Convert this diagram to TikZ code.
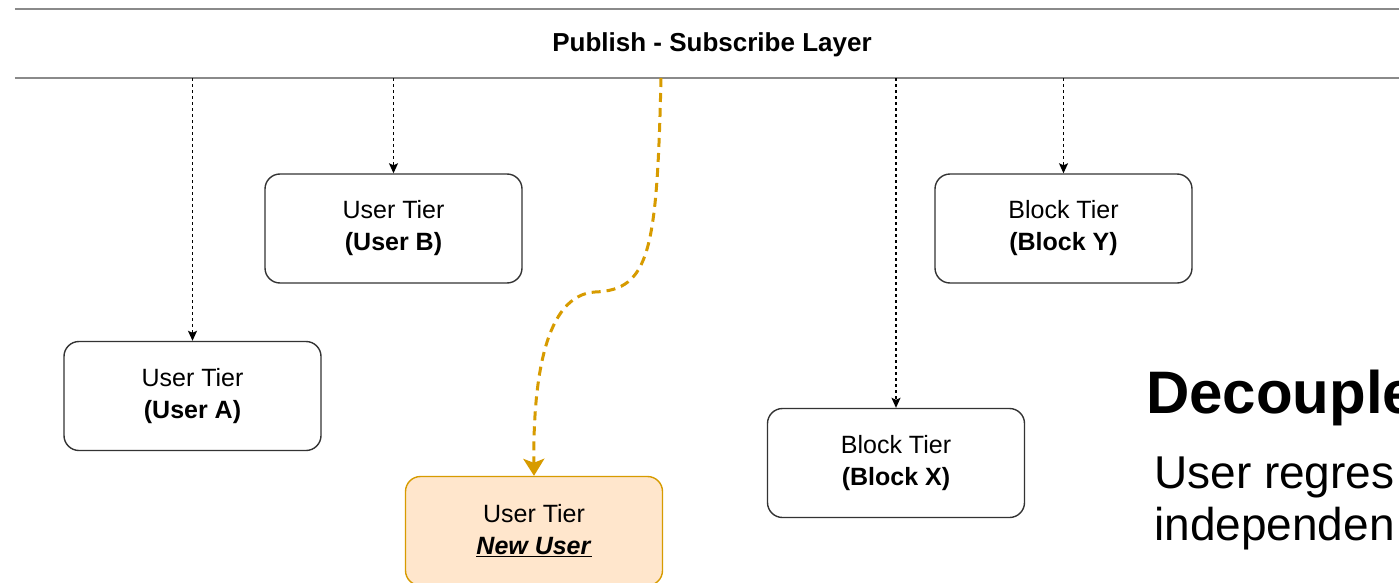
\documentclass[tikz,border=0pt]{standalone}
\usepackage{fontspec}
\setmainfont{Liberation Sans}
\usetikzlibrary{arrows.meta}

\definecolor{layerline}{HTML}{8A8A8A}
\definecolor{boxline}{HTML}{333333}
\definecolor{newfill}{HTML}{FFE6CC}
\definecolor{newline}{HTML}{D79B00}

\tikzset{
  tierbox/.style={draw=boxline, line width=1.4pt, rounded corners=15pt,
    minimum width=257pt, minimum height=109pt, inner sep=0pt, align=center,
    font=\fontsize{25}{32}\selectfont,
    execute at begin node={\rule{0pt}{24pt}}},
  newbox/.style={tierbox, draw=newline, fill=newfill},
  feed/.style={draw=black, line width=1.3pt, dash pattern=on 3pt off 3pt,
    -{Stealth[length=10pt,width=9pt,inset=2pt]}},
  newfeed/.style={draw=newline, line width=3pt, dash pattern=on 9pt off 6pt,
    -{Stealth[length=17pt,width=21pt,inset=4pt]}},
  layerrule/.style={draw=layerline, line width=1.5pt},
}

\begin{document}
\begin{tikzpicture}[x=1pt,y=-1pt]
  \useasboundingbox (0,0) rectangle (1399,583);
  \clip (0,0) rectangle (1399,583);

  % publish-subscribe layer: a band bounded by two rules
  \node[minimum width=1394pt, minimum height=69pt, inner sep=0pt,
        font=\bfseries\fontsize{26}{30}\selectfont] (layer) at (712,43.5)
        {\rule{0pt}{22pt}Publish - Subscribe Layer};
  \draw[layerrule] (layer.north west) -- (layer.north east);
  \draw[layerrule] (layer.south west) -- (layer.south east);

  % subscriber tiers
  \node[tierbox] (userB)  at (393.5,228.5) {User Tier\\\textbf{(User B)}};
  \node[tierbox] (userA)  at (192.5,396)   {User Tier\\\textbf{(User A)}};
  \node[tierbox] (blockX) at (896,463)     {Block Tier\\\textbf{(Block X)}};
  \node[tierbox] (blockY) at (1063.5,228.5){Block Tier\\\textbf{(Block Y)}};
  \node[newbox]  (newU)   at (534,531)     {User Tier\\\underline{\textbf{\textit{New User}}}};

  % subscriptions
  \draw[feed] (layer.south -| userA.north) -- (userA.north);
  \draw[feed] (layer.south -| userB.north) -- (userB.north);
  \draw[feed] (layer.south -| blockX.north) -- (blockX.north);
  \draw[feed] (layer.south -| blockY.north) -- (blockY.north);

  % newly attached subscriber
  \coordinate (tap) at (661,78);
  \coordinate (bend) at (595,292);
  \draw[newfeed] (tap) .. controls (657,250) and (650,290) .. (bend)
                       .. controls (545,295) and (533,380) .. (newU.north);

  % side note
  \node[anchor=base west, inner sep=0pt, font=\bfseries\fontsize{60}{66}\selectfont]
    (heading) at (1146,413) {Decouple};
  \node[anchor=base west, inner sep=0pt, font=\fontsize{46}{52}\selectfont]
    (line1) at (1154,488) {User regres};
  \node[anchor=base west, inner sep=0pt, font=\fontsize{46}{52}\selectfont]
    (line2) at (1154,540) {independen};
\end{tikzpicture}
\end{document}
